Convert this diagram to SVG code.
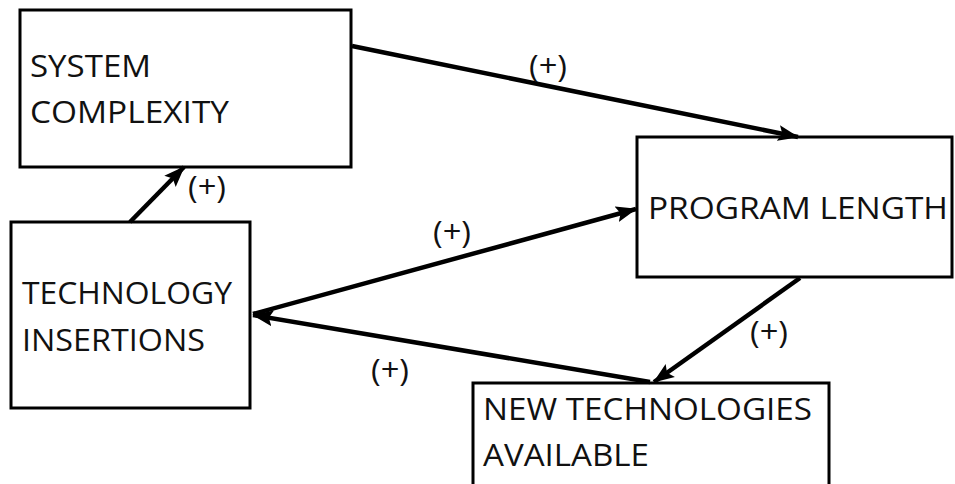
<svg xmlns="http://www.w3.org/2000/svg" width="955" height="484" viewBox="0 0 955 484">
<style>
.box{fill:#fff;stroke:#000;stroke-width:3}
.t{font-family:"Open Sans","Noto Sans",sans-serif;font-size:31px;fill:#111}
.l{font-family:"Open Sans","Noto Sans",sans-serif;font-size:31px;fill:#111;text-anchor:middle}
.c{stroke:#000;stroke-width:4.5;fill:none;marker-end:url(#ah)}
</style>
<defs>
<marker id="ah" markerUnits="userSpaceOnUse" markerWidth="22" markerHeight="18" viewBox="0 0 22 18" refX="20" refY="9" orient="auto">
<path d="M0,1 L21,9 L0,17 L4,9 Z" fill="#000"/>
</marker>
</defs>
<rect width="955" height="484" fill="#fff"/>
<g id="system-complexity">
<rect class="box" x="20" y="10" width="331" height="157"/>
<text class="t" x="30" y="77" textLength="121" lengthAdjust="spacingAndGlyphs">SYSTEM</text>
<text class="t" x="30" y="123" textLength="199" lengthAdjust="spacingAndGlyphs">COMPLEXITY</text>
</g>
<g id="program-length">
<rect class="box" x="637" y="137" width="315" height="140"/>
<text class="t" x="648" y="219" textLength="300" lengthAdjust="spacingAndGlyphs">PROGRAM LENGTH</text>
</g>
<g id="technology-insertions">
<rect class="box" x="11" y="222" width="239" height="186"/>
<text class="t" x="22" y="304" textLength="210" lengthAdjust="spacingAndGlyphs">TECHNOLOGY</text>
<text class="t" x="22" y="351" textLength="183" lengthAdjust="spacingAndGlyphs">INSERTIONS</text>
</g>
<g id="new-technologies">
<rect class="box" x="473" y="383" width="356" height="110"/>
<text class="t" x="483" y="420" textLength="329" lengthAdjust="spacingAndGlyphs">NEW TECHNOLOGIES</text>
<text class="t" x="483" y="466" textLength="166" lengthAdjust="spacingAndGlyphs">AVAILABLE</text>
</g>
<g id="connectors">
<line class="c" x1="352" y1="46" x2="798" y2="137"/>
<line class="c" x1="130" y1="222" x2="184" y2="167"/>
<line class="c" x1="253" y1="314" x2="636" y2="209"/>
<line class="c" x1="800" y1="278" x2="654" y2="382"/>
<line class="c" x1="650" y1="382" x2="253" y2="315"/>
<text class="l" x="548" y="77" textLength="38" lengthAdjust="spacingAndGlyphs">(+)</text>
<text class="l" x="207" y="198" textLength="38" lengthAdjust="spacingAndGlyphs">(+)</text>
<text class="l" x="452" y="243" textLength="38" lengthAdjust="spacingAndGlyphs">(+)</text>
<text class="l" x="390" y="381" textLength="38" lengthAdjust="spacingAndGlyphs">(+)</text>
<text class="l" x="769" y="343" textLength="38" lengthAdjust="spacingAndGlyphs">(+)</text>
</g>
</svg>
